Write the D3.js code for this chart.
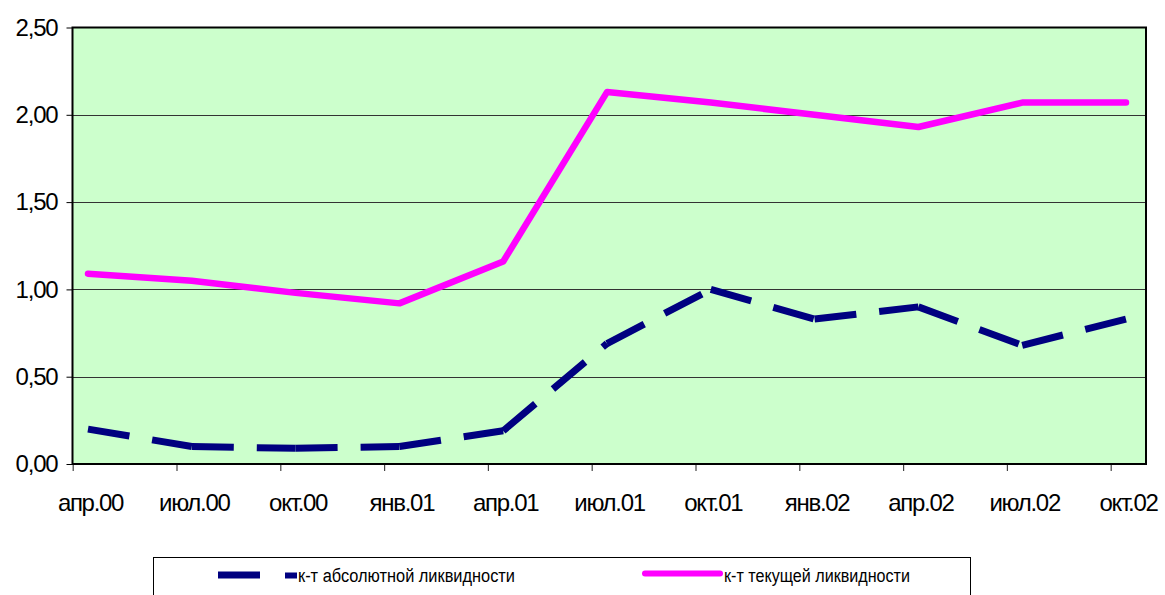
<!DOCTYPE html>
<html>
<head>
<meta charset="utf-8">
<script src="https://cdn.jsdelivr.net/npm/d3@7"></script>
<style>
  body { margin: 0; background: #fff; }
  svg { display: block; font-family: "Liberation Sans", Arial, sans-serif; }
</style>
</head>
<body>
<svg></svg>
<script>
// данные графика
const months = ["апр.00","июл.00","окт.00","янв.01","апр.01","июл.01","окт.01","янв.02","апр.02","июл.02","окт.02"];
const absLiq = [0.20, 0.10, 0.09, 0.10, 0.19, 0.69, 1.00, 0.83, 0.90, 0.68, 0.83];
const curLiq = [1.09, 1.05, 0.98, 0.92, 1.16, 2.13, 2.07, 2.00, 1.93, 2.07, 2.07];
const yTicks = [0, 0.5, 1, 1.5, 2, 2.5];
const seriesNames = ["к-т абсолютной ликвидности", "к-т текущей ликвидности"];

const svgSize = { width: 1165, height: 595 };
const plot = { left: 72.5, right: 1146, top: 27.5, bottom: 464 };

var svg = d3.select("svg")
  .attr("width", svgSize.width)
  .attr("height", svgSize.height);

var x = d3.scalePoint().domain(months).range([88, 1126]);
var y = d3.scaleLinear().domain([0, 2.5]).range([plot.bottom, plot.top]);
const tickShift = -15.3;

// фон области построения
svg.append("rect")
  .attr("x", plot.left).attr("y", plot.top)
  .attr("width", plot.right - plot.left).attr("height", plot.bottom - plot.top)
  .attr("fill", "#ccffcc");

// линии сетки
svg.append("g").selectAll("line")
  .data(yTicks.filter(d => d > 0 && d < 2.5))
  .enter().append("line")
  .attr("x1", plot.left).attr("x2", plot.right)
  .attr("y1", d => Math.round(y(d)) + 0.5).attr("y2", d => Math.round(y(d)) + 0.5)
  .attr("stroke", "#333").attr("stroke-width", 1.2);

// ось Y
var yAxis = d3.axisLeft(y)
  .tickValues(yTicks)
  .tickSize(6)
  .tickPadding(9)
  .tickFormat(d => d3.format(".2f")(d).replace(".", ","));
var gy = svg.append("g")
  .attr("transform", `translate(${plot.left},0)`)
  .call(yAxis);
gy.select(".domain").remove();
gy.selectAll(".tick line").attr("stroke", "#000");
gy.selectAll("text")
  .attr("font-size", 24).attr("fill", "#000")
  .attr("letter-spacing", -1.2);

// ось X
var xAxis = d3.axisBottom(x).tickSize(0).tickPadding(0);
var gx = svg.append("g")
  .attr("transform", `translate(0,${plot.bottom})`)
  .call(xAxis);
gx.select(".domain").remove();
gx.selectAll(".tick text")
  .attr("font-size", 24).attr("fill", "#000")
  .attr("letter-spacing", -1.3)
  .attr("dy", 0).attr("y", 47).attr("dx", 2);
gx.selectAll(".tick").append("line")
  .attr("x1", tickShift).attr("x2", tickShift)
  .attr("y1", 0).attr("y2", 7)
  .attr("stroke", "#444").attr("stroke-width", 1.2);

// рамка области
svg.append("rect")
  .attr("x", plot.left).attr("y", plot.top)
  .attr("width", plot.right - plot.left).attr("height", plot.bottom - plot.top)
  .attr("fill", "none").attr("stroke", "#000").attr("stroke-width", 2);

// текущая ликвидность
var line = d3.line().x((d, i) => x(months[i])).y(d => y(d));
svg.append("path")
  .datum(curLiq)
  .attr("d", line)
  .attr("fill", "none")
  .attr("stroke", "#ff00ff")
  .attr("stroke-width", 6.5)
  .attr("stroke-linecap", "round")
  .attr("stroke-linejoin", "round");

// абсолютная ликвидность: штрих начинается заново на каждом отрезке
svg.append("g").selectAll("path")
  .data(d3.pairs(absLiq.map((v, i) => [x(months[i]), y(v)])))
  .enter().append("path")
  .attr("d", d => d3.line()(d))
  .attr("fill", "none")
  .attr("stroke", "#000080")
  .attr("stroke-width", 7)
  .attr("stroke-dasharray", "42,23");

// легенда
var legend = svg.append("g");
legend.append("rect")
  .attr("x", 153.5).attr("y", 557.5)
  .attr("width", 817).attr("height", 60)
  .attr("fill", "#fff").attr("stroke", "#000").attr("stroke-width", 1);
legend.append("line")
  .attr("x1", 218).attr("x2", 260).attr("y1", 575).attr("y2", 575)
  .attr("stroke", "#000080").attr("stroke-width", 7);
legend.append("rect")
  .attr("x", 285).attr("y", 572.5).attr("width", 12).attr("height", 6)
  .attr("fill", "#000080");
legend.append("text")
  .attr("x", 298).attr("y", 581.5)
  .attr("font-size", 18)
  .attr("textLength", 217).attr("lengthAdjust", "spacingAndGlyphs")
  .text(seriesNames[0]);
legend.append("line")
  .attr("x1", 645).attr("x2", 720).attr("y1", 573.5).attr("y2", 573.5)
  .attr("stroke", "#ff00ff").attr("stroke-width", 6).attr("stroke-linecap", "round");
legend.append("text")
  .attr("x", 724).attr("y", 581.5)
  .attr("font-size", 18)
  .attr("textLength", 186).attr("lengthAdjust", "spacingAndGlyphs")
  .text(seriesNames[1]);
</script>
</body>
</html>
